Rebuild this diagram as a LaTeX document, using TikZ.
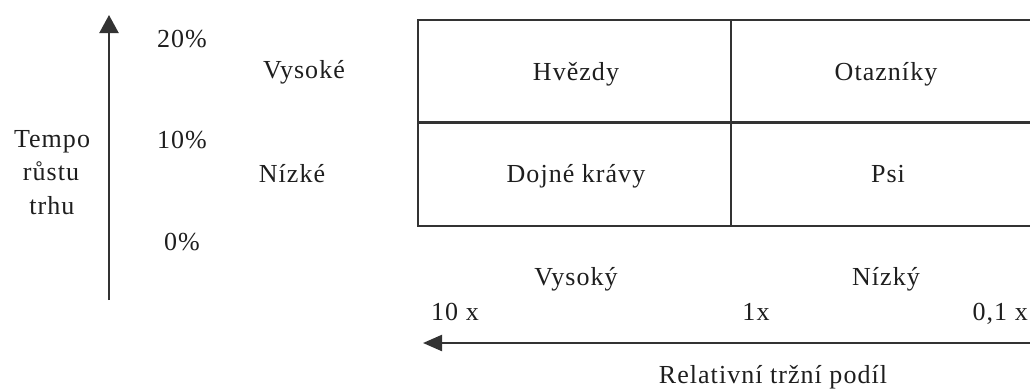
\documentclass[tikz,border=0pt]{standalone}
\usepackage{fontspec}
\setmainfont{Liberation Serif}[LetterSpace=4]
\usetikzlibrary{arrows.meta}
\definecolor{ink}{HTML}{1E1E1E}
\definecolor{rule}{HTML}{333333}
\tikzset{
  lbl/.style={anchor=base, inner sep=0pt, text=ink, font=\fontsize{26}{30}\selectfont},
  grid/.style={draw=rule, line width=2.2pt},
  axis/.style={draw=rule, line width=2.2pt},
}
\begin{document}
\begin{tikzpicture}[x=1pt,y=-1pt]
\useasboundingbox (0,0) rectangle (1030,389);
% vertical axis
\coordinate (vs) at (109,300);
\coordinate (ve) at (109,15);
\draw[axis, -{Triangle[length=18pt,width=19pt]}] (vs) -- (ve);
\node[lbl] (t1) at (52,147) {Tempo};
\node[lbl] (t2) at (51,180) {růstu};
\node[lbl] (t3) at (52,214) {trhu};
\node[lbl] (p20) at (182,47) {20\%};
\node[lbl] (p10) at (182,148) {10\%};
\node[lbl] (p0) at (182,250) {0\%};
\node[lbl] (vys) at (304,78) {Vysoké};
\node[lbl] (niz) at (292,182) {Nízké};
% table
\coordinate (tl) at (418,20);
\coordinate (tr) at (1030,20);
\coordinate (ml) at (418,122.5);
\coordinate (mr) at (1030,122.5);
\coordinate (bl) at (418,226);
\coordinate (br) at (1030,226);
\coordinate (ct) at (731,20);
\coordinate (cb) at (731,226);
\draw[grid] (tr) -- (tl) -- (bl) -- (br);
\draw[grid] (ml) -- (mr);
\draw[grid] (ct) -- (cb);
\node[lbl] (hv) at (576,80) {Hvězdy};
\node[lbl] (ot) at (886,80) {Otazníky};
\node[lbl] (dk) at (576,182) {Dojné krávy};
\node[lbl] (ps) at (888,182) {Psi};
% horizontal axis
\node[lbl] (hvys) at (576,285) {Vysoký};
\node[lbl] (hniz) at (886,285) {Nízký};
\node[lbl] (x10) at (455,320) {10 x};
\node[lbl] (x1) at (756,320) {1x};
\node[lbl, anchor=base east] (x01) at (1028,320) {0,1 x};
\coordinate (hs) at (1030,343);
\coordinate (he) at (423,343);
\draw[axis, -{Triangle[length=19pt,width=16pt]}] (hs) -- (he);
\node[lbl] (rel) at (773,383) {Relativní tržní podíl};
\end{tikzpicture}
\end{document}
